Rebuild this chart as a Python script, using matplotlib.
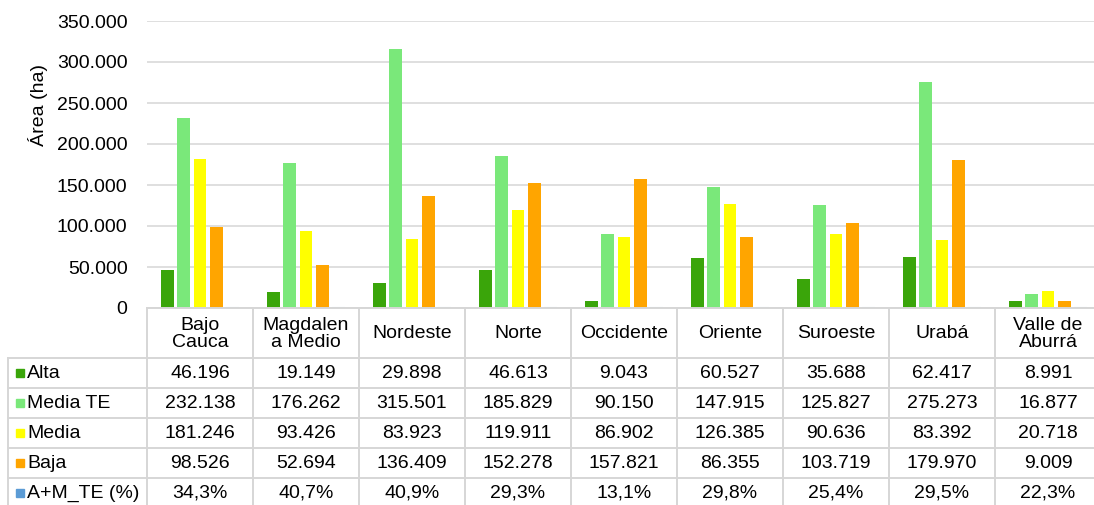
import matplotlib
matplotlib.use("Agg")
import numpy as np
import matplotlib.pyplot as plt
from matplotlib.patches import Rectangle

plt.rcParams['font.family'] = ['Liberation Sans', 'DejaVu Sans']

regiones = ["Bajo\nCauca", "Magdalen\na Medio", "Nordeste", "Norte", "Occidente",
            "Oriente", "Suroeste", "Urabá", "Valle de\nAburrá"]
series = ["Alta", "Media TE", "Media", "Baja", "A+M_TE (%)"]
colores = ["#3AA50A", "#7AE87A", "#FFFF00", "#FFA500", "#5B9BD5"]

alta = [46196, 19149, 29898, 46613, 9043, 60527, 35688, 62417, 8991]
media_te = [232138, 176262, 315501, 185829, 90150, 147915, 125827, 275273, 16877]
media = [181246, 93426, 83923, 119911, 86902, 126385, 90636, 83392, 20718]
baja = [98526, 52694, 136409, 152278, 157821, 86355, 103719, 179970, 9009]
am_te = [34.3, 40.7, 40.9, 29.3, 13.1, 29.8, 25.4, 29.5, 22.3]

valores = [alta, media_te, media, baja, [v / 100 for v in am_te]]


def miles(v):
    return f"{v:,.0f}".replace(",", ".")


def pct(v):
    return f"{v:.1f}%".replace(".", ",")


textos = [[miles(v) for v in alta], [miles(v) for v in media_te],
          [miles(v) for v in media], [miles(v) for v in baja],
          [pct(v) for v in am_te]]

W, H = 1094, 505
fs = 14
fig = plt.figure(figsize=(W / 100, H / 100), dpi=100)

# layout in pixels
x0, colw = 147, 106
ytop, yzero = 21, 308
ax = fig.add_axes([x0 / W, 1 - yzero / H, colw * 9 / W, (yzero - ytop) / H])
ax.set_facecolor("none")

x = np.arange(len(regiones))
paso, ancho = 0.154, 0.12
for i, (nombre, vals, c) in enumerate(zip(series, valores, colores)):
    off = (i - 2) * paso
    if i == 4:
        ax.bar(x + off, vals, ancho, color="#BDD7EE", edgecolor="#BDD7EE", linewidth=1.5, zorder=3)
    else:
        ax.bar(x + off, vals, ancho, color=c, zorder=3)

ax.set_xlim(-0.5, len(regiones) - 0.5)
ax.set_ylim(0, 350000)
ax.set_yticks(np.arange(0, 350001, 50000))
ax.set_yticklabels([miles(v) for v in np.arange(0, 350001, 50000)], fontsize=fs)
ax.tick_params(axis="y", length=0, pad=14)
ax.set_xticks([])
ax.grid(axis="y", color="#D9D9D9", linewidth=1.2, zorder=0)
for s in ax.spines.values():
    s.set_visible(False)
ax.set_ylabel("Área (ha)", fontsize=fs)
ax.yaxis.set_label_coords(-0.104, 0.707)

# table overlay
tab = fig.add_axes([0, 0, 1, 1])
tab.set_xlim(0, W)
tab.set_ylim(H, 0)
tab.axis("off")
tab.patch.set_alpha(0)

lc, lw = "#D6D6D6", 1.4
xr = x0 + colw * 9
hdr_bot = 358
rowh = 30
tab.plot([x0, xr], [yzero, yzero], color=lc, lw=lw)
for r in range(len(series) + 1):
    y = hdr_bot + r * rowh
    tab.plot([8, xr], [y, y], color=lc, lw=lw)
for k in range(len(regiones) + 1):
    xx = x0 + k * colw
    tab.plot([xx, xx], [yzero, hdr_bot + rowh * len(series)], color=lc, lw=lw)
tab.plot([8, 8], [hdr_bot, hdr_bot + rowh * len(series)], color=lc, lw=lw)

for k, reg in enumerate(regiones):
    tab.text(x0 + (k + 0.5) * colw, (yzero + hdr_bot) / 2 + 1, reg, ha="center", va="center",
             fontsize=fs, linespacing=1.05)

for r, (nombre, c) in enumerate(zip(series, colores)):
    yc = hdr_bot + (r + 0.5) * rowh
    tab.add_patch(Rectangle((16, yc - 4), 8, 8, color=c))
    tab.text(27, yc, nombre, ha="left", va="center", fontsize=fs)
    for k in range(len(regiones)):
        tab.text(x0 + (k + 0.5) * colw, yc, textos[r][k], ha="center", va="center", fontsize=fs)

fig.savefig("out.png", dpi=100)
